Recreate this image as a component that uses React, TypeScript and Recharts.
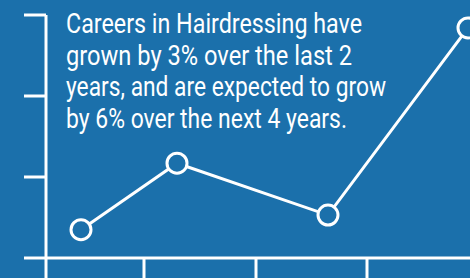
import React from 'react';
import { LineChart, Line, XAxis, YAxis, Customized } from 'recharts';

// x positions along the timeline and growth index values
const pointX = [35, 131, 282, 422];
const growth = [0.35, 1.17, 0.53, 2.84];
const xTicks = [0, 98, 210, 321];
const yTicks = [0, 1, 2, 3];

const captionLines = [
  'Careers in Hairdressing have',
  'grown by 3% over the last 2',
  'years, and are expected to grow',
  'by 6% over the next 4 years.',
];

const BG = '#1b70ab';
const WHITE = '#ffffff';

const data = pointX.map((x, i) => ({ x, growth: growth[i] }));

// widths of each caption line, to get the condensed look of the original type
const lineWidths = [296, 286, 320, 281];

// no tick labels, but keep the tick lines
const NoLabel = () => <g />;

function Caption() {
  return (
    <g>
      {captionLines.map((line, i) => (
        <text
          key={i}
          x={66}
          y={33 + i * 31.7}
          fill={WHITE}
          fontFamily="Roboto, 'Noto Sans', sans-serif"
          fontSize={28}
          textLength={lineWidths[i]}
          lengthAdjust="spacingAndGlyphs"
        >
          {line}
        </text>
      ))}
    </g>
  );
}

export default function App() {
  return (
    <div style={{ position: 'absolute', left: 0, top: 0, width: 470, height: 278, background: BG }}>
      <LineChart width={470} height={278} data={data} margin={{ top: 15, right: 0, bottom: 0, left: 0 }}>
        <XAxis
          dataKey="x"
          type="number"
          domain={[0, 424]}
          ticks={xTicks}
          tick={NoLabel}
          height={20}
          tickSize={20}
          axisLine={{ stroke: WHITE, strokeWidth: 3 }}
          tickLine={{ stroke: WHITE, strokeWidth: 3 }}
          interval={0}
          allowDataOverflow
        />
        <YAxis
          type="number"
          domain={[0, 3]}
          ticks={yTicks}
          tick={NoLabel}
          width={46}
          tickSize={22}
          axisLine={{ stroke: WHITE, strokeWidth: 3 }}
          tickLine={{ stroke: WHITE, strokeWidth: 3 }}
          interval={0}
        />
        <Line
          type="linear"
          dataKey="growth"
          stroke={WHITE}
          strokeWidth={3}
          dot={{ r: 10, stroke: WHITE, strokeWidth: 3, fill: BG }}
          activeDot={false}
          isAnimationActive={false}
        />
        <Customized component={Caption} />
      </LineChart>
    </div>
  );
}
